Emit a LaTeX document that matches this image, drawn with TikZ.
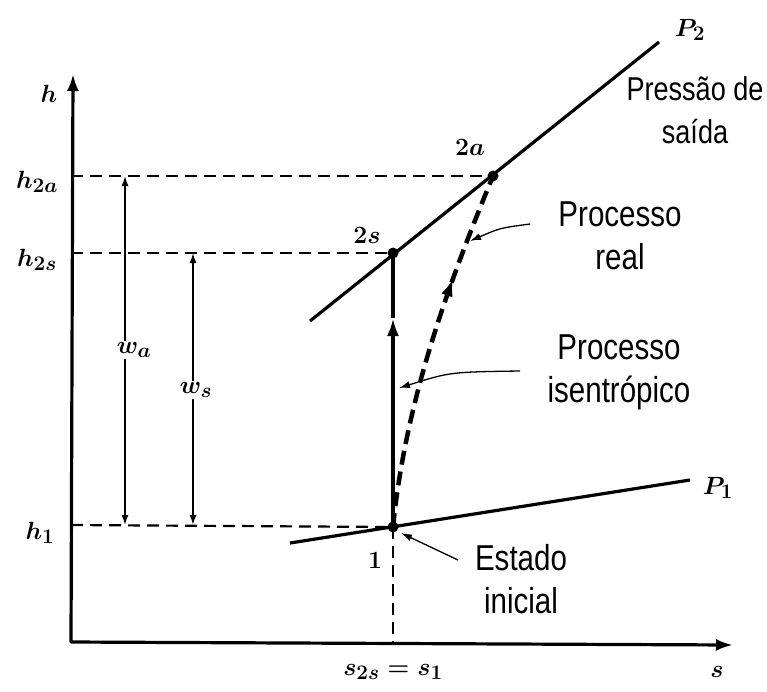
\documentclass[tikz,border=0pt]{standalone}
\usepackage{fontspec}
\newfontfamily\narrowsans[FakeStretch=0.82]{Liberation Sans}
\usetikzlibrary{arrows.meta,decorations.markings}
\begin{document}
\begin{tikzpicture}[x=1pt,y=-1pt,line join=round]
\useasboundingbox (0,0) rectangle (767,691);
\tikzset{
  axis/.style={line width=3.2pt},
  guide/.style={line width=2.2pt, dash pattern=on 12pt off 7pt},
  pline/.style={line width=3.2pt},
  dot/.style={circle, fill=black, inner sep=0pt, minimum size=11pt},
  work/.style={line width=1.5pt, {Latex[length=10pt,width=7pt]}-{Latex[length=10pt,width=7pt]}},
  note/.style={line width=1.3pt, -{Latex[length=11pt,width=7pt]}},
  iso/.style={line width=4.5pt},
  realp/.style={line width=4.5pt, dash pattern=on 14pt off 7pt},
  lbl/.style={font=\fontsize{36}{43}\narrowsans, align=center, inner sep=0pt},
  slbl/.style={font=\fontsize{33}{43}\narrowsans, align=center, inner sep=0pt},
  mlbl/.style={font=\fontsize{31}{33}\selectfont\boldmath, inner sep=1pt},
  wlbl/.style={font=\fontsize{31}{33}\selectfont\boldmath, fill=white, inner sep=2pt}
}
% axes
\coordinate (O) at (71,642);
\coordinate (ytop) at (73,74);
\coordinate (xend) at (733,645);
\draw[axis, {Latex[length=17pt,width=12pt]}-{Latex[length=17pt,width=12pt]}] (ytop) -- (O) -- (xend);

% state points
\node[dot] (p1) at (393,527) {};
\node[dot] (p2s) at (393,253) {};
\node[dot] (p2a) at (493,176) {};

% guide lines
\coordinate (h2a) at (71,176);
\coordinate (h2s) at (71,253);
\coordinate (h1) at (71,525);
\coordinate (s1) at (393,642);
\draw[guide] (h2a) -- (p2a.center);
\draw[guide] (h2s) -- (p2s.center);
\draw[guide] (h1) -- (p1.center);
\draw[guide] (p1.center) -- (s1);

% pressure lines
\coordinate (P2a) at (310,321);
\coordinate (P2b) at (659,42);
\coordinate (P1a) at (290,543);
\coordinate (P1b) at (690,480);
\draw[pline] (P2a) -- (P2b);
\draw[pline] (P1a) -- (P1b);

% work arrows
\coordinate (wa1) at (125,525);
\coordinate (wa2) at (125,176);
\coordinate (ws1) at (193,525);
\coordinate (ws2) at (193,253);
\draw[work] (wa1) -- (wa2);
\draw[work] (ws1) -- (ws2);
\node[wlbl] (wa) at (134,350) {$w_a$};
\node[wlbl] (ws) at (196,390) {$w_s$};

% isentropic process
\coordinate (isomid) at (393,318);
\draw[iso, -{Latex[length=18pt,width=12pt]}] (p1.center) -- (isomid);
\draw[iso] (isomid) -- (p2s.center);

% real process
\draw[realp, postaction={decorate, decoration={markings, mark=at position 0.70 with {\arrow{Latex[length=18pt,width=12pt]}}}}]
  (p1.center) .. controls (405,407) and (443,297) .. (p2a.center);

% labels
\node[mlbl] (hl) at (49,94) {$h$};
\node[mlbl] (h2al) at (37,182) {$h_{2a}$};
\node[mlbl] (h2sl) at (37,260) {$h_{2s}$};
\node[mlbl] (h1l) at (40,533) {$h_1$};
\node[mlbl] (l2a) at (470,147) {$2a$};
\node[mlbl] (l2s) at (367,235) {$2s$};
\node[mlbl] (l1) at (375,560) {$1$};
\node[mlbl] (lP2) at (690,30) {$P_2$};
\node[mlbl] (lP1) at (718,488) {$P_1$};
\node[mlbl] (ls) at (393,672) {$s_{2s}=s_1$};
\node[mlbl] (lsx) at (717,672) {$s$};

% annotations
\node[slbl] (tout) at (695,110) {Pressão de\\saída};
\node[lbl] (treal) at (620,236) {Processo\\real};
\node[lbl] (tiso) at (619,372) {Processo\\isentrópico};
\node[lbl] (test) at (521,579) {Estado\\inicial};

\coordinate (nrA) at (530,224);
\coordinate (nrB) at (470,241);
\draw[note] (nrA) .. controls (500,228) .. (nrB);
\coordinate (niA) at (520,371);
\coordinate (niB) at (399,388);
\draw[note] (niA) .. controls (450,372) .. (niB);
\coordinate (neA) at (458,560);
\coordinate (neB) at (401,533);
\draw[note] (neA) -- (neB);
\end{tikzpicture}
\end{document}
